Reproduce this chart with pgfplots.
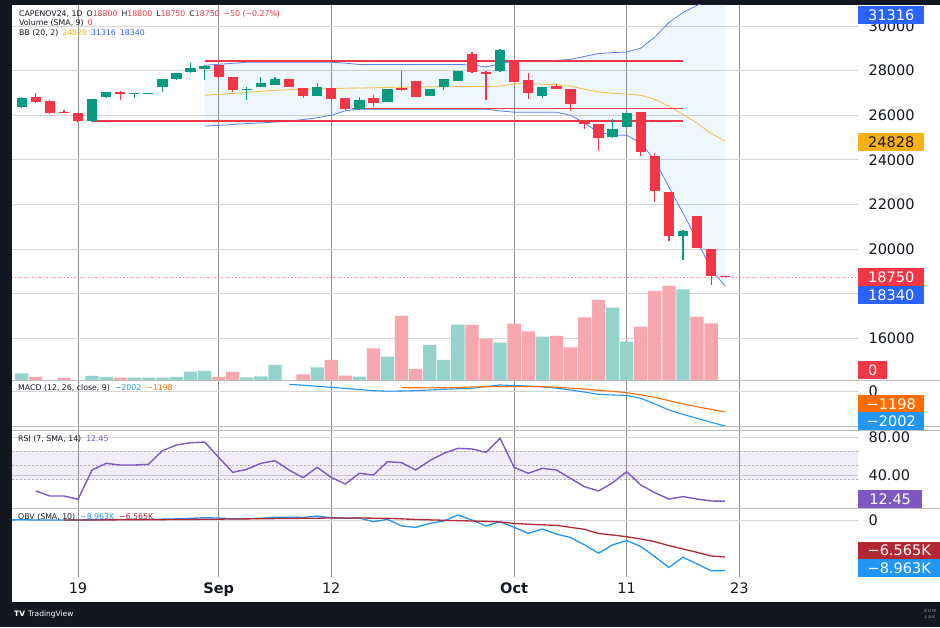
\documentclass[border=0pt]{standalone}
\usepackage{pgfplots}
\pgfplotsset{compat=1.18}
\usepackage{pgfplotstable}
\usepackage{fontspec}
\setmainfont{DejaVu Sans}

\definecolor{up}{HTML}{089981}
\definecolor{dn}{HTML}{F23645}
\definecolor{volup}{HTML}{93D3CB}
\definecolor{voldn}{HTML}{F8A7AE}
\definecolor{bbblue}{HTML}{2962FF}
\definecolor{bbline}{HTML}{5A7FF0}
\definecolor{bbmid}{HTML}{F2C14E}
\definecolor{amber}{HTML}{FBB016}
\definecolor{macdblue}{HTML}{2196F3}
\definecolor{macdorange}{HTML}{FF6D00}
\definecolor{rsip}{HTML}{7E57C2}
\definecolor{obvred}{HTML}{B22833}
\definecolor{frame}{HTML}{131722}
\definecolor{hgrid}{HTML}{D4D4D4}
\definecolor{vgrid}{HTML}{8F8F8F}
\definecolor{sepc}{HTML}{BDBDBD}
\definecolor{txt}{HTML}{131722}
\definecolor{redline}{HTML}{F23645}

\pgfplotstableread{
i O H L C
-4 26350 26800 26300 26760
1 25730 26720 25700 26710
2 26800 27050 26780 27020
4 26940 27000 26760 26990
5 26950 27000 26940 26990
6 27250 27610 27020 27600
7 27600 27880 27590 27870
8 27920 28320 27900 28100
9 28050 28250 27560 28190
12 27110 27250 26670 27160
13 27250 27700 27240 27430
14 27340 27700 27330 27600
17 26850 27430 26840 27250
20 26260 26800 26250 26670
22 26580 27170 26570 27160
25 26850 27170 26840 27160
26 27250 27610 27110 27600
27 27520 27970 27510 27960
30 27960 28950 27950 28940
33 26850 27250 26760 27250
38 25010 25820 24990 25370
39 25460 26090 25450 26080
43 20580 20850 19510 20800
}\upc

\pgfplotstableread{
i O H L C
-3 26800 26980 26550 26580
-2 26620 26660 26040 26090
-1 26130 26220 26080 26090
0 26090 26110 25700 25730
3 27020 27060 26670 26940
10 28230 28250 27680 27700
11 27700 27720 27020 27110
15 27600 27620 27240 27250
16 27200 27220 26760 26850
18 27200 27220 26700 26710
19 26760 26780 26250 26260
21 26760 26890 26350 26530
23 27200 27960 27100 27110
24 27520 27530 26790 26800
28 28720 28810 27910 27920
29 27920 27960 26670 27830
31 28450 28460 27470 27480
32 27560 27870 26710 26980
34 27290 27380 27150 27160
35 27160 27170 26170 26490
36 25770 25780 25370 25590
37 25590 25600 24390 24970
40 26130 26140 24160 24340
41 24160 24300 22100 22600
42 22550 22560 20360 20580
44 21480 21490 20040 20050
45 20000 20010 18390 18800
46 18800 18800 18750 18750
}\dnc

\pgfplotstableread{
i U M Lo
9 28230 26890 25510
10 28280 26930 25540
11 28320 26970 25580
12 28370 27020 25620
13 28370 27070 25650
14 28370 27110 25690
15 28370 27140 25730
16 28370 27160 25800
17 28370 27175 25880
18 28370 27190 25990
19 28330 27205 26200
20 28270 27215 26264
21 28270 27225 26264
22 28270 27240 26264
23 28270 27255 26264
24 28270 27260 26264
25 28270 27265 26264
26 28270 27270 26264
27 28270 27275 26264
28 28250 27280 26264
29 28160 27285 26264
30 28300 27300 26190
31 28440 27400 26130
32 28450 27410 26130
33 28450 27390 26130
34 28450 27360 26130
35 28500 27300 25995
36 28630 27160 25640
37 28760 27040 25235
38 28800 26980 25100
39 28830 26940 25100
40 29000 26890 24743
41 29500 26710 23982
42 30150 26400 22774
43 30600 26040 21610
44 30920 25640 20403
45 31190 25180 19060
46 31316 24828 18340
}\bb

\pgfplotstableread{
i v
-4 6.7
1 4
2 3
4 2.3
5 2.3
6 2.3
7 3
8 8.3
9 9
12 2.7
13 3.7
14 15
17 12.7
20 3.3
22 23.3
25 35
26 20
27 55.3
30 37.3
33 43.3
38 72.3
39 38.3
43 90.7
}\volu

\pgfplotstableread{
i v
-3 3
-1 2
3 2.3
10 3
11 8
16 5.7
18 20
19 4.3
21 31.7
23 64
24 11
28 55
29 41
31 56.3
32 48.7
34 44
35 32.7
36 62.7
37 80
40 53.3
41 89
42 94
44 63.3
45 56.7
}\vold

\pgfplotstableread{
i v
15 383
16 330
17 270
18 211
19 150
20 80
21 17
22 -10
23 0
24 20
25 57
26 95
27 130
28 154
29 260
30 343
31 310
32 285
33 240
34 160
35 57
36 -60
37 -190
38 -228
39 -250
40 -418
41 -742
42 -1085
43 -1332
44 -1561
45 -1790
46 -2002
}\macd

\pgfplotstableread{
i v
23 190
24 185
25 180
26 185
27 200
28 230
29 245
30 250
31 252
32 250
33 245
34 220
35 165
36 110
37 40
38 -20
39 -95
40 -220
41 -362
42 -550
43 -742
44 -900
45 -1050
46 -1198
}\macds

\pgfplotstableread{
i v
-3 23.2
-2 17.9
-1 17.9
0 14.4
1 45.3
2 52.3
3 50.5
4 50.5
5 51.2
6 65.6
7 71.6
8 74.0
9 74.7
10 58.6
11 42.8
12 46.0
13 52.3
14 55.1
15 45.3
16 37.2
17 48.1
18 37.5
19 30.5
20 41.8
21 40.0
22 54.0
23 53.0
24 45.3
25 55.1
26 62.8
27 68.1
28 67.4
29 63.9
30 78.6
31 48.1
32 41.8
33 47.0
34 45.3
35 36.5
36 27.7
37 23.2
38 31.9
39 43.5
40 29.5
41 21.4
42 14.7
43 17.2
44 14.7
45 12.6
46 12.45
}\rsi

\pgfplotstableread{
i v
-5 0
-4 0.05
-3 0
-2 0
-1 0
0 0
1 0.05
2 0.1
3 0.08
4 0.1
5 0.12
6 0.15
7 0.2
8 0.3
9 0.4
10 0.35
11 0.2
12 0.25
13 0.3
14 0.5
15 0.5
16 0.45
17 0.7
18 0.4
19 0.3
20 0.35
21 -0.3
22 0.12
23 -1.06
24 -1.3
25 -0.6
26 -0.18
27 0.89
28 0
29 -1.06
30 -0.3
31 -1.3
32 -2.36
33 -1.6
34 -2.5
35 -3.1
36 -4.4
37 -5.9
38 -4.4
39 -3.66
40 -4.7
41 -6.5
42 -8.4
43 -6.6
44 -7.8
45 -9.0
46 -8.963
}\obv

\pgfplotstableread{
i v
-1 0
2 0.02
5 0.05
8 0.1
10 0.15
12 0.2
14 0.25
16 0.3
18 0.35
20 0.35
22 0.3
24 0.1
26 -0.05
28 -0.18
29 -0.25
30 -0.35
31 -0.6
32 -0.75
33 -0.85
34 -0.95
35 -1.3
36 -1.65
37 -2.4
38 -2.66
39 -2.96
40 -3.37
41 -3.84
42 -4.55
43 -5.14
44 -5.73
45 -6.38
46 -6.565
}\obvsma

\pgfplotsset{
  panel/.style={scale only axis, anchor=south west, width=846pt,
    xmin=-4.69, xmax=55.44,
    axis line style={draw=none}, major tick length=0pt,
    xtick={0,10,18,31,39,47}, xticklabels={},
    xmajorgrids, x grid style={vgrid, line width=0.7pt},
    y grid style={hgrid, line width=0.7pt},
    yticklabel pos=right,
    yticklabel style={anchor=west, xshift=7pt, font=\fontsize{14.5}{16}\selectfont, text=txt}},
  ov/.style={scale only axis, anchor=south west, width=846pt,
    xmin=-4.69, xmax=55.44, hide axis}
}
\tikzset{
  box/.style={anchor=west, minimum height=18pt, inner sep=0pt, text=white,
    font=\fontsize{14.5}{16}\selectfont},
  leg/.style={anchor=west, inner sep=0pt, text=txt, font=\fontsize{7.8}{9}\selectfont}
}

\begin{document}
\begin{tikzpicture}[x=1pt,y=1pt]
\fill[frame] (0,0) rectangle (940,627);
\fill[white] (12,25) rectangle (940,622);

% main panel: grid + Bollinger fill (stacked area between lower and upper band)
\begin{axis}[panel, at={(12pt,247pt)}, height=375pt, ymin=14128, ymax=30936,
  ytick={16000,18000,20000,22000,24000,26000,28000,30000},
  yticklabels={16000,18000,20000,22000,24000,26000,28000,30000},
  ymajorgrids, stack plots=y]
\addplot[draw=none] table[x=i,y=Lo] {\bb};
\addplot[draw=none, fill=macdblue, fill opacity=0.07] table[x=i, y expr=\thisrow{U}-\thisrow{Lo}] {\bb} \closedcycle;
\end{axis}

% volume
\begin{axis}[ov, at={(12pt,247pt)}, height=375pt, ymin=0, ymax=375, ybar, bar width=13.3pt]
\addplot[fill=volup, draw=none, bar shift=0pt] table[x=i,y=v] {\volu};
\addplot[fill=voldn, draw=none, bar shift=0pt] table[x=i,y=v] {\vold};
\end{axis}

% price
\begin{axis}[ov, at={(12pt,247pt)}, height=375pt, ymin=14128, ymax=30936]
\addplot[bbline, line width=0.8pt] table[x=i,y=U] {\bb};
\addplot[bbline, line width=0.8pt] table[x=i,y=Lo] {\bb};
\addplot[bbmid, line width=0.9pt] table[x=i,y=M] {\bb};
\addplot[redline, line width=1.4pt] coordinates {(9,28420) (43,28420)};
\addplot[redline, line width=1.2pt] coordinates {(19.5,26300) (43,26300)};
\addplot[redline, line width=1.6pt] coordinates {(1,25725) (43,25725)};
\addplot[dn!55, line width=0.6pt, dash pattern=on 1.5pt off 2pt] coordinates {(-5,18750) (56,18750)};
% wicks
\addplot[draw=none, mark=none, error bars/.cd, y dir=minus, y explicit, error mark=none,
  error bar style={draw=up, line width=1.2pt}]
  table[x=i, y=H, y error minus expr=\thisrow{H}-\thisrow{L}] {\upc};
\addplot[draw=none, mark=none, error bars/.cd, y dir=minus, y explicit, error mark=none,
  error bar style={draw=dn, line width=1.2pt}]
  table[x=i, y=H, y error minus expr=\thisrow{H}-\thisrow{L}] {\dnc};
% bodies
\addplot[draw=none, mark=none, error bars/.cd, y dir=minus, y explicit, error mark=none,
  error bar style={draw=up, line width=10.3pt}]
  table[x=i, y=C, y error minus expr=\thisrow{C}-\thisrow{O}] {\upc};
\addplot[draw=none, mark=none, error bars/.cd, y dir=minus, y explicit, error mark=none,
  error bar style={draw=dn, line width=10.3pt}]
  table[x=i, y=O, y error minus expr=\thisrow{O}-\thisrow{C}] {\dnc};
\end{axis}

% MACD
\begin{axis}[panel, at={(12pt,199pt)}, height=48pt, ymin=-2113, ymax=628,
  ytick={0}, yticklabels={0}, ymajorgrids]
\addplot[macdblue, line width=1.1pt] table[x=i,y=v] {\macd};
\addplot[macdorange, line width=1.1pt] table[x=i,y=v] {\macds};
\end{axis}

% RSI
\begin{axis}[panel, at={(12pt,119pt)}, height=80pt, ymin=5.26, ymax=89.5,
  ytick={40,80}, yticklabels={40.00,80.00}, ymajorgrids]
\addplot[draw=none, fill=rsip, fill opacity=0.1] coordinates {(-5,35) (56,35) (56,65) (-5,65)};
\addplot[gray!60, line width=0.6pt, dash pattern=on 2pt off 2pt] coordinates {(-5,65) (56,65)};
\addplot[gray!60, line width=0.6pt, dash pattern=on 2pt off 2pt] coordinates {(-5,50) (56,50)};
\addplot[gray!60, line width=0.6pt, dash pattern=on 2pt off 2pt] coordinates {(-5,35) (56,35)};
\addplot[rsip, line width=1.4pt] table[x=i,y=v] {\rsi};
\end{axis}

% OBV
\begin{axis}[panel, at={(12pt,50pt)}, height=69pt, ymin=-10.106, ymax=2.128,
  ytick={0}, yticklabels={0}, ymajorgrids,
  xticklabels={19,\textbf{Sep},12,\textbf{Oct},11,23},
  xticklabel style={font=\fontsize{14.5}{16}\selectfont, text=txt, yshift=-2pt}]
\addplot[macdblue, line width=1.3pt] table[x=i,y=v] {\obv};
\addplot[obvred, line width=1.3pt] table[x=i,y=v] {\obvsma};
\end{axis}

% pane separators
\draw[sepc, line width=0.8pt] (12,247) -- (940,247);
\draw[sepc, line width=0.8pt] (12,201) -- (940,201);
\draw[sepc, line width=0.8pt] (12,196.5) -- (940,196.5);
\draw[sepc, line width=0.8pt] (12,119) -- (940,119);

% legends
\node[leg] at (19,613) {CAPENOV24, 1D\hspace{4pt}O\textcolor{dn}{18800}\hspace{4pt}H\textcolor{dn}{18800}\hspace{4pt}L\textcolor{dn}{18750}\hspace{4pt}C\textcolor{dn}{18750}\hspace{4pt}\textcolor{dn}{−50 (−0.27\%)}};
\node[leg] at (19,604) {Volume (SMA, 9)\hspace{4pt}\textcolor{dn}{0}};
\node[leg] at (19,594) {BB (20, 2)\hspace{4pt}\textcolor{amber}{24828}\hspace{4pt}\textcolor{bbblue}{31316}\hspace{4pt}\textcolor{bbblue}{18340}};
\node[leg] at (18,239) {MACD (12, 26, close, 9)\hspace{5pt}\textcolor{macdblue}{−2002}\hspace{5pt}\textcolor{macdorange}{−1198}};
\node[leg] at (18,188) {RSI (7, SMA, 14)\hspace{5pt}\textcolor{rsip}{12.45}};
\node[leg] at (18,110) {OBV (SMA, 10)\hspace{5pt}\textcolor{macdblue}{−8.963K}\hspace{5pt}\textcolor{obvred}{−6.565K}};

% price-scale value tags
\node[box, fill=bbblue, minimum width=66pt] at (858,612) {31316};
\node[box, fill=amber, text=txt, minimum width=66pt] at (858,484.5) {24828};
\node[box, fill=dn, minimum width=66pt] at (858,350) {18750};
\node[box, fill=bbblue, minimum width=66pt] at (858,332) {18340};
\node[box, fill=dn, minimum width=29pt] at (858,257) {0};
\node[box, fill=macdorange, minimum width=66pt] at (858,223) {−1198};
\node[box, fill=macdblue, minimum width=66pt] at (858,205.5) {−2002};
\node[box, fill=rsip, minimum width=64pt] at (858,128) {12.45};
\node[box, fill=obvred, minimum width=82pt] at (858,76.5) {−6.565K};
\node[box, fill=macdblue, minimum width=82pt] at (858,59) {−8.963K};

% footer
\node[anchor=west, inner sep=0pt, text=white, font=\fontsize{7.5}{9}\selectfont] at (14,13) {\textbf{TV}\hspace{3pt}TradingView};
\node[inner sep=0pt, text=gray!70, font=\fontsize{4}{4}\selectfont] at (930,16) {Z U M};
\node[inner sep=0pt, text=gray!70, font=\fontsize{4}{4}\selectfont] at (930,10) {L A K};

\pgfresetboundingbox
\path[use as bounding box] (0,0) rectangle (940,627);
\end{tikzpicture}
\end{document}
